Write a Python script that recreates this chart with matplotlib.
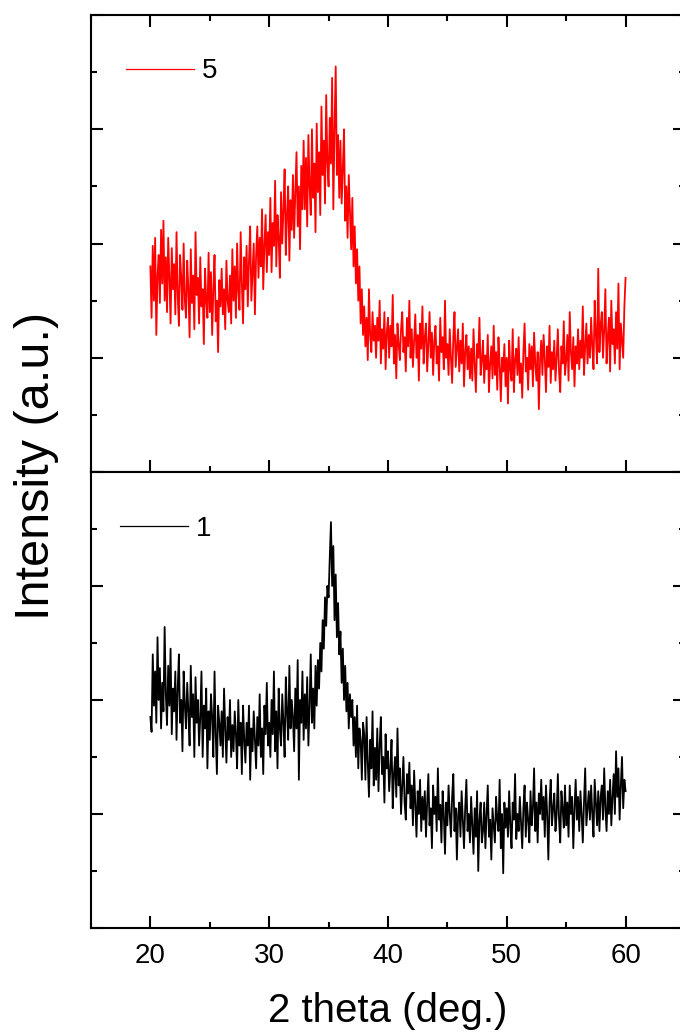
import numpy as np
import matplotlib
matplotlib.use("Agg")
import matplotlib.pyplot as plt
from matplotlib.ticker import MultipleLocator

plt.rcParams['font.family'] = ['Liberation Sans', 'DejaVu Sans']

# 2 theta grid, 20..60 deg, step 0.1
two_theta = np.linspace(20, 60, 401)

# sample 5 (red), counts
sample_5 = [
    180, 135, 198, 150, 205, 120, 172, 190, 148, 212,
    165, 220, 150, 188, 140, 205, 170, 130, 196, 160,
    182, 138, 210, 155, 128, 190, 170, 142, 200, 150,
    135, 185, 160, 118, 195, 148, 172, 125, 210, 155,
    170, 130, 188, 145, 160, 112, 178, 150, 135, 192,
    140, 175, 120, 160, 190, 132, 150, 105, 168, 145,
    178, 138, 160, 125, 185, 150, 140, 172, 130, 195,
    150, 180, 135, 200, 158, 142, 210, 165, 130, 188,
    160, 198, 145, 185, 215, 150, 175, 200, 138, 190,
    215, 170, 205, 180, 230, 160, 198, 225, 175, 210,
    190, 240, 175, 218, 198, 255, 180, 225, 205, 170,
    245, 200, 230, 265, 190, 225, 250, 185, 238, 212,
    260, 205, 245, 280, 215, 250, 195, 268, 230, 290,
    230, 275, 215, 295, 250, 225, 300, 240, 270, 210,
    305, 245, 280, 225, 320, 260, 290, 235, 330, 270,
    250, 310, 270, 345, 230, 300, 355, 260, 295, 240,
    290, 235, 265, 300, 220, 250, 205, 260, 228, 195,
    240, 180, 215, 165, 195, 150, 180, 130, 160, 120,
    145, 110, 135, 98, 160, 120, 105, 140, 115, 128,
    100, 135, 115, 150, 95, 125, 108, 140, 90, 122,
    135, 100, 128, 110, 155, 95, 120, 82, 130, 112,
    98, 125, 140, 105, 118, 88, 135, 110, 150, 100,
    125, 92, 115, 138, 100, 120, 80, 130, 108, 145,
    95, 118, 130, 88, 112, 140, 100, 122, 85, 115,
    128, 95, 110, 80, 135, 105, 118, 90, 150, 100,
    112, 85, 125, 100, 78, 118, 140, 92, 108, 125,
    88, 115, 95, 130, 75, 105, 120, 90, 110, 82,
    108, 80, 125, 95, 70, 112, 100, 135, 85, 98,
    115, 78, 102, 90, 120, 70, 95, 110, 82, 128,
    85, 105, 72, 118, 95, 62, 100, 88, 112, 75,
    100, 60, 115, 90, 80, 125, 70, 98, 108, 85,
    118, 78, 95, 65, 105, 130, 88, 100, 72, 112,
    90, 110, 75, 122, 95, 80, 105, 55, 98, 115,
    85, 120, 100, 70, 110, 92, 128, 78, 105, 90,
    115, 80, 100, 125, 88, 70, 110, 95, 132, 85,
    98, 120, 80, 140, 105, 90, 118, 75, 110, 95,
    125, 90, 115, 100, 145, 85, 110, 130, 95, 120,
    100, 135, 110, 90, 150, 120, 95, 178, 105, 128,
    140, 100, 125, 160, 95, 118, 135, 88, 150, 112,
    125, 95, 140, 108, 165, 90, 130, 115, 100, 145,
    170,
]

# sample 1 (black)
sample_1 = [
    185, 172, 240, 195, 225, 180, 255, 200, 228, 175,
    215, 190, 264, 205, 178, 230, 195, 245, 170, 210,
    190, 225, 165, 210, 240, 180, 200, 155, 225, 195,
    175, 215, 190, 160, 230, 185, 205, 150, 220, 180,
    200, 160, 185, 225, 150, 195, 175, 210, 140, 190,
    165, 205, 185, 150, 225, 170, 135, 195, 180, 160,
    190, 150, 210, 175, 145, 185, 165, 200, 150, 178,
    155, 190, 170, 140, 200, 160, 180, 135, 195, 165,
    145, 180, 160, 195, 130, 175, 155, 190, 165, 140,
    185, 160, 205, 150, 175, 135, 195, 170, 215, 160,
    180, 150, 200, 170, 225, 155, 190, 140, 210, 175,
    160, 205, 180, 150, 220, 190, 165, 230, 175, 200,
    185, 155, 210, 175, 235, 130, 200, 180, 225, 165,
    205, 175, 220, 160, 195, 240, 180, 210, 175, 230,
    195, 235, 210, 250, 225, 270, 245, 290, 265, 300,
    290, 325, 356, 300, 335, 270, 310, 255, 285, 240,
    260, 215, 245, 200, 230, 190, 215, 175, 205, 185,
    200, 160, 185, 150, 195, 140, 175, 165, 130, 180,
    170, 130, 185, 145, 115, 165, 140, 190, 125, 158,
    130, 175, 120, 160, 185, 135, 150, 110, 170, 140,
    155, 120, 140, 165, 105, 135, 150, 115, 175, 125,
    140, 100, 125, 150, 110, 95, 135, 118, 145, 105,
    125, 90, 138, 110, 80, 120, 100, 130, 85, 115,
    95, 120, 80, 110, 135, 90, 105, 70, 125, 100,
    115, 85, 140, 95, 108, 75, 120, 100, 65, 110,
    90, 125, 100, 80, 115, 135, 85, 105, 60, 98,
    110, 80, 120, 95, 70, 105, 130, 85, 100, 75,
    115, 90, 65, 105, 80, 120, 50, 95, 110, 75,
    85, 110, 70, 100, 125, 80, 95, 60, 105, 90,
    75, 115, 95, 85, 130, 70, 100, 48, 110, 88,
    105, 80, 120, 90, 70, 110, 95, 135, 78, 100,
    85, 115, 92, 70, 105, 125, 80, 110, 95, 75,
    120, 90, 105, 140, 85, 110, 75, 118, 100, 130,
    95, 115, 80, 125, 100, 60, 110, 130, 90, 105,
    118, 85, 100, 135, 95, 75, 120, 105, 88, 125,
    90, 110, 80, 125, 100, 115, 70, 105, 130, 95,
    115, 85, 120, 100, 75, 110, 140, 90, 105, 120,
    95, 125, 100, 80, 130, 110, 90, 120, 85, 115,
    125, 95, 140, 105, 85, 120, 100, 130, 90, 115,
    135, 100, 155, 115, 140, 95, 125, 150, 105, 130,
    120,
]

labels = ['5', '1']
colors = ['#ff0000', '#000000']

fig = plt.figure(figsize=(6.8, 10.32), dpi=100)
ax_top = fig.add_axes([0.1338, 0.5426, 0.8735, 0.4428])
ax_bot = fig.add_axes([0.1338, 0.1008, 0.8735, 0.4419])

for ax in (ax_top, ax_bot):
    ax.set_xlim(15, 65)
    ax.set_ylim(0, 400)
    ax.xaxis.set_major_locator(MultipleLocator(10))
    ax.xaxis.set_minor_locator(MultipleLocator(5))
    ax.yaxis.set_major_locator(MultipleLocator(100))
    ax.yaxis.set_minor_locator(MultipleLocator(50))
    ax.tick_params(which='both', direction='in', width=1.5,
                   left=True, right=True, labelleft=False, labelsize=20)
    ax.tick_params(which='major', length=8.6)
    ax.tick_params(which='minor', length=4.3)
    for s in ax.spines.values():
        s.set_linewidth(1.5)

ax_top.tick_params(which='both', top=True, bottom=True, labelbottom=False)
ax_bot.tick_params(which='both', top=False, bottom=True, pad=11)

ax_top.plot(two_theta, sample_5, color=colors[0], lw=1.3, label=labels[0])
ax_bot.plot(two_theta, sample_1, color=colors[1], lw=1.3, label=labels[1])

leg_top = ax_top.legend(loc='center left', bbox_to_anchor=(0.059, 0.877),
                        frameon=False, fontsize=20, handlelength=2.45,
                        handletextpad=0.28, borderpad=0, borderaxespad=0)
leg_bot = ax_bot.legend(loc='center left', bbox_to_anchor=(0.049, 0.875),
                        frameon=False, fontsize=20, handlelength=2.45,
                        handletextpad=0.28, borderpad=0, borderaxespad=0)
for leg in (leg_top, leg_bot):
    for line in leg.get_lines():
        line.set_linewidth(0.9)

fig.text(0.0537, 0.5484, 'Intensity (a.u.)', rotation=90, fontsize=35,
         ha='center', va='center')
fig.text(388 / 680, 1 - 1011 / 1032, '2 theta (deg.)', fontsize=29,
         ha='center', va='center')

fig.savefig('out.png', dpi=100)
